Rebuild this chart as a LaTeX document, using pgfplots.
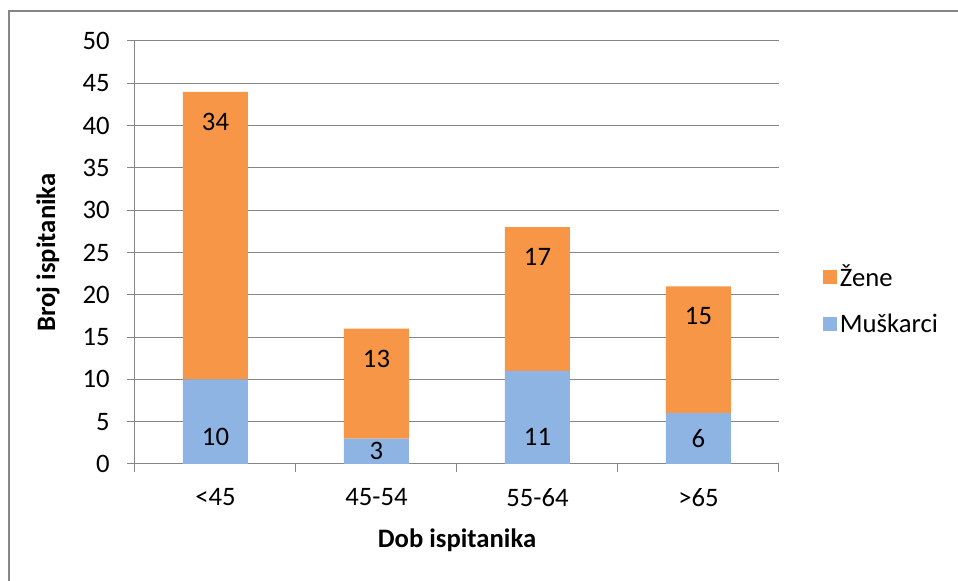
\documentclass[border=0pt]{standalone}
\usepackage{pgfplots}
\pgfplotsset{compat=1.18}
\usepackage{fontspec}
\setmainfont{Carlito}
\definecolor{zene}{HTML}{F79646}
\definecolor{muski}{HTML}{8EB4E3}
\definecolor{osi}{HTML}{868686}
\begin{document}
\begin{tikzpicture}[x=0.75pt,y=0.75pt,font=\fontsize{20}{24}\selectfont]
\path[use as bounding box] (0,0) rectangle (958,581);
% outer chart frame (only left and top visible)
\draw[osi, line width=1.1pt] (9,-10) -- (9,570) -- (970,570);
\begin{axis}[
    at={(101.25pt,87.75pt)}, anchor=south west,
    scale only axis, width=483pt, height=317.25pt,
    ybar stacked, bar width=48.75pt,
    xmin=-0.5, xmax=3.5, ymin=0, ymax=50,
    enlargelimits=false,
    axis x line=bottom, axis y line=left,
    axis line style={-, osi, line width=0.75pt},
    tick style={osi, line width=0.75pt},
    tick align=outside, major tick length=6pt,
    xtick={-0.5,0.5,1.5,2.5,3.5},
    x tick label as interval,
    xticklabels={<45,45-54,55-64,>65},
    xticklabel style={yshift=-9pt},
    ytick={0,5,...,50},
    yticklabel style={xshift=-9.5pt},
    ymajorgrids, grid style={osi, line width=0.75pt},
    /pgf/number format/assume math mode=true,
    ticklabel style={black},
    xlabel={\textbf{Dob ispitanika}},
    ylabel={\textbf{Broj ispitanika}},
    every axis x label/.style={at={(axis description cs:0.5,-0.18)}, anchor=center},
    every axis y label/.style={at={(axis description cs:-0.135,0.5)}, rotate=90, anchor=center},
    visualization depends on=rawy\as\rawy,
    nodes near coords={\pgfmathprintnumber{\rawy}},
    legend style={at={(axis description cs:1,0.388)}, anchor=west, xshift=33pt,
        draw=none, fill=none, inner sep=0pt, row sep=15pt, cells={anchor=west}},
    legend image code/.code={\fill[#1,draw=none] (0pt,-5.25pt) rectangle (10.5pt,5.25pt);},
    reverse legend,
]
% labels sit at the segment centre: men near the base, women near the top
\addplot[fill=muski, draw=none,
    every node near coord/.append style={anchor=center,
        yshift={-\rawy*3.1725 + min(20.25,\rawy*3.1725)}}]
    coordinates {(0,10) (1,3) (2,11) (3,6)};
\addlegendentry{Muškarci}
\addplot[fill=zene, draw=none,
    every node near coord/.append style={anchor=center,
        yshift={\rawy*3.1725 - 22.5}}]
    coordinates {(0,34) (1,13) (2,17) (3,15)};
\addlegendentry{Žene}
\end{axis}
\end{tikzpicture}
\end{document}
